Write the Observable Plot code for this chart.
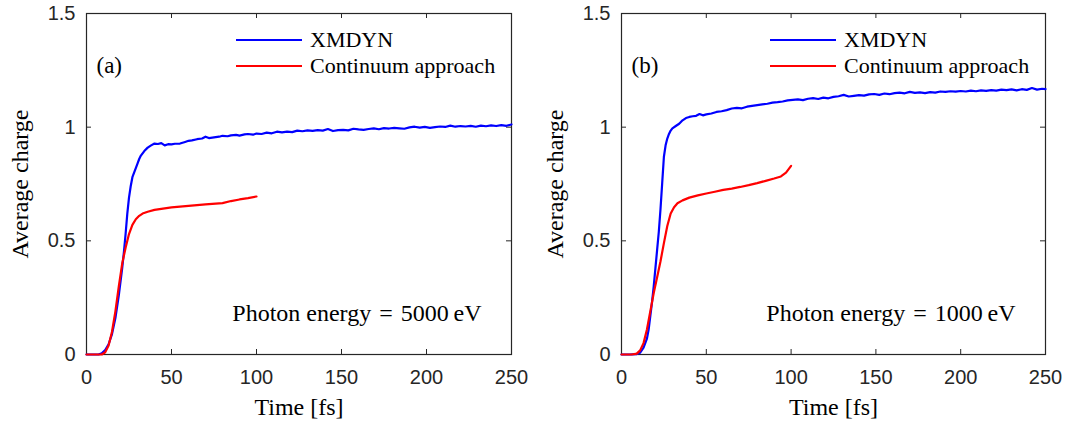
<!DOCTYPE html>
<html>
<head>
<meta charset="utf-8">
<script src="https://cdn.jsdelivr.net/npm/d3@7"></script>
<script src="https://cdn.jsdelivr.net/npm/@observablehq/plot@0.6"></script>
<style>
  body { margin: 0; background: #fff; }
  #fig { position: relative; width: 1069px; height: 428px; }
  .panel { position: absolute; top: 0; }
  .legend { position: absolute; left: 0; top: 0; font-family: "Liberation Serif", "DejaVu Serif", serif; font-size: 22px; color: #000; }
  .row { position: absolute; white-space: nowrap; display: flex; align-items: center; height: 26px; }
  .sw { display: inline-block; width: 66px; height: 2.5px; margin-right: 8px; }
</style>
</head>
<body>
<div id="fig"></div>
<script>
// Average charge vs. time, [time fs, charge] pairs per series.
const xmdyn5000 = [[0,0],[4,0],[7,0],[9,0.005],[11,0.02],[13,0.045],[15,0.09],[17,0.16],[19,0.26],[21,0.38],[22,0.45],[23,0.53],[24,0.62],[25,0.69],[26,0.74],[27,0.78],[28,0.8],[29,0.82],[30,0.84],[31,0.86],[32,0.875],[34,0.895],[36,0.91],[38,0.92],[40,0.928],[42,0.926],[44,0.93],[46,0.92],[48,0.925],[50,0.924],[52,0.927],[55,0.928],[58,0.935],[60,0.94],[62,0.942],[65,0.947],[68,0.95],[70,0.958],[72,0.952],[75,0.955],[78,0.958],[80,0.962],[83,0.96],[85,0.964],[88,0.966],[90,0.963],[93,0.968],[95,0.97],[98,0.967],[100,0.972],[103,0.97],[106,0.976],[109,0.973],[112,0.98],[115,0.977],[118,0.98],[121,0.978],[124,0.985],[127,0.982],[130,0.986],[133,0.984],[136,0.987],[139,0.985],[142,0.992],[145,0.983],[148,0.987],[151,0.988],[154,0.986],[157,0.993],[160,0.99],[163,0.988],[166,0.992],[169,0.995],[172,0.991],[175,0.996],[178,0.994],[181,0.997],[184,0.995],[187,0.993],[190,0.999],[193,1.002],[196,0.998],[199,1.001],[202,0.997],[205,1.0],[208,1.003],[211,1.001],[214,1.007],[217,1.002],[220,1.005],[223,1.003],[226,1.006],[229,1.002],[232,1.007],[235,1.004],[238,1.008],[241,1.005],[244,1.009],[247,1.006],[250,1.012]];
const continuum5000 = [[0,0],[5,0],[9,0],[11,0.01],[13,0.04],[15,0.1],[17,0.19],[19,0.3],[21,0.4],[23,0.47],[25,0.53],[27,0.57],[29,0.595],[31,0.61],[33,0.62],[36,0.628],[40,0.636],[45,0.642],[50,0.647],[60,0.654],[70,0.66],[80,0.666],[85,0.675],[90,0.682],[95,0.688],[100,0.695]];
const xmdyn1000 = [[0,0],[5,0],[9,0.002],[11,0.008],[13,0.03],[15,0.07],[16,0.11],[17,0.17],[18,0.23],[19,0.3],[20,0.38],[21,0.46],[22,0.54],[23,0.64],[24,0.755],[25,0.87],[26,0.92],[27,0.95],[28,0.97],[29,0.985],[30,0.995],[32,1.005],[34,1.015],[36,1.03],[38,1.04],[40,1.045],[42,1.048],[44,1.05],[46,1.058],[48,1.052],[50,1.056],[53,1.06],[56,1.067],[59,1.07],[62,1.075],[65,1.082],[68,1.085],[71,1.083],[74,1.09],[77,1.094],[80,1.097],[83,1.1],[86,1.103],[89,1.108],[92,1.11],[95,1.113],[98,1.118],[101,1.12],[104,1.122],[107,1.119],[110,1.125],[113,1.128],[116,1.124],[119,1.13],[122,1.127],[125,1.133],[128,1.136],[131,1.142],[134,1.135],[137,1.138],[140,1.141],[143,1.139],[146,1.144],[149,1.146],[152,1.142],[155,1.148],[158,1.145],[161,1.15],[164,1.152],[167,1.149],[170,1.155],[173,1.151],[176,1.153],[179,1.15],[182,1.154],[185,1.152],[188,1.157],[191,1.155],[194,1.158],[197,1.156],[200,1.159],[203,1.157],[206,1.161],[209,1.158],[212,1.162],[215,1.16],[218,1.163],[221,1.161],[224,1.165],[227,1.163],[230,1.166],[233,1.162],[236,1.167],[239,1.164],[242,1.172],[245,1.165],[248,1.169],[250,1.167]];
const continuum1000 = [[0,0],[6,0],[9,0.004],[11,0.018],[13,0.05],[15,0.11],[17,0.19],[19,0.27],[21,0.34],[23,0.41],[25,0.49],[27,0.565],[29,0.62],[31,0.648],[33,0.665],[36,0.678],[40,0.69],[45,0.7],[50,0.708],[55,0.716],[60,0.724],[65,0.73],[70,0.737],[75,0.745],[80,0.754],[85,0.764],[90,0.774],[94,0.783],[97,0.8],[100,0.83]];

const xTicks = [0, 50, 100, 150, 200, 250];
const yTicks = [0, 0.5, 1, 1.5];
const yTickLabels = ["0", "0.5", "1", "1.5"];
const seriesNames = ["XMDYN", "Continuum approach"];
const seriesColors = ["#0000ff", "#ff0000"];
const panelTags = ["(a)", "(b)"];
const energies = ["Photon energy\u2004=\u20045000\u2009eV", "Photon energy\u2004=\u20041000\u2009eV"];
const xLabel = "Time [fs]";
const yLabel = "Average charge";

const axisColor = "#262626";
const serif = "'Liberation Serif', 'DejaVu Serif', serif";
const sans = "'Liberation Sans', Arial, sans-serif";

function panel({left, width, marginRight, tag, energy, xmdyn, continuum}) {
  const H = 428, mt = 13, mb = 74, ml = 86;
  const fw = width - ml - marginRight, fh = H - mt - mb;
  const chart = Plot.plot({
    width, height: H,
    marginTop: mt, marginBottom: mb, marginLeft: ml, marginRight,
    style: {fontFamily: sans, background: "transparent", overflow: "visible"},
    x: {domain: [0, 250]},
    y: {domain: [0, 1.5]},
    marks: [
      // tick labels
      Plot.axisX(xTicks, {tickSize: 0, tickPadding: 15, label: null, fontSize: 20, fill: axisColor, tickFormat: d => String(d)}),
      Plot.axisY(yTicks, {tickSize: 0, tickPadding: 11, label: null, fontSize: 20, fill: axisColor, tickFormat: (d, i) => yTickLabels[i]}),
      // inward ticks on all four sides
      Plot.tickX(xTicks, {x: d => d, insetTop: fh - 5, stroke: axisColor}),
      Plot.tickX(xTicks, {x: d => d, insetBottom: fh - 5, stroke: axisColor}),
      Plot.tickY(yTicks, {y: d => d, insetRight: fw - 5, stroke: axisColor}),
      Plot.tickY(yTicks, {y: d => d, insetLeft: fw - 5, stroke: axisColor}),
      Plot.frame({stroke: axisColor, strokeWidth: 1.2}),
      // series, drawn over the frame
      Plot.line(xmdyn, {x: d => d[0], y: d => d[1], stroke: seriesColors[0], strokeWidth: 2.2}),
      Plot.line(continuum, {x: d => d[0], y: d => d[1], stroke: seriesColors[1], strokeWidth: 2.2}),
      // axis titles
      Plot.text([xLabel], {text: d => d, frameAnchor: "bottom", dy: 53, textAnchor: "middle", lineAnchor: "middle", fontFamily: serif, fontSize: 24, fill: "#000"}),
      Plot.text([yLabel], {text: d => d, frameAnchor: "left", dx: -66, rotate: -90, textAnchor: "middle", lineAnchor: "middle", fontFamily: serif, fontSize: 24, fill: "#000"}),
      // annotations
      Plot.text([tag], {text: d => d, frameAnchor: "top-left", dx: 10, dy: 52, textAnchor: "start", lineAnchor: "middle", fontFamily: serif, fontSize: 23, fill: "#000"}),
      Plot.text([energy], {text: d => d, frameAnchor: "bottom-right", dx: -30, dy: -41, textAnchor: "end", lineAnchor: "middle", fontFamily: serif, fontSize: 24, fill: "#000"})
    ]
  });

  const wrap = document.createElement("div");
  wrap.className = "panel";
  wrap.style.left = left + "px";
  wrap.style.width = width + "px";
  wrap.style.height = H + "px";
  wrap.appendChild(chart);

  // legend, placed inside the frame near its top-right corner
  const legend = document.createElement("div");
  legend.className = "legend";
  const frameRight = ml + fw;
  [27, 53].forEach((top, i) => {
    const row = document.createElement("div");
    row.className = "row";
    row.style.left = (frameRight - 275) + "px";
    row.style.top = top + "px";
    const sw = document.createElement("span");
    sw.className = "sw";
    sw.style.background = seriesColors[i];
    const label = document.createElement("span");
    label.textContent = seriesNames[i];
    row.appendChild(sw);
    row.appendChild(label);
    legend.appendChild(row);
  });
  wrap.appendChild(legend);
  return wrap;
}

const fig = document.getElementById("fig");
fig.appendChild(panel({left: 0, width: 534, marginRight: 23, tag: panelTags[0], energy: energies[0], xmdyn: xmdyn5000, continuum: continuum5000}));
fig.appendChild(panel({left: 535, width: 534, marginRight: 24, tag: panelTags[1], energy: energies[1], xmdyn: xmdyn1000, continuum: continuum1000}));
</script>
</body>
</html>
